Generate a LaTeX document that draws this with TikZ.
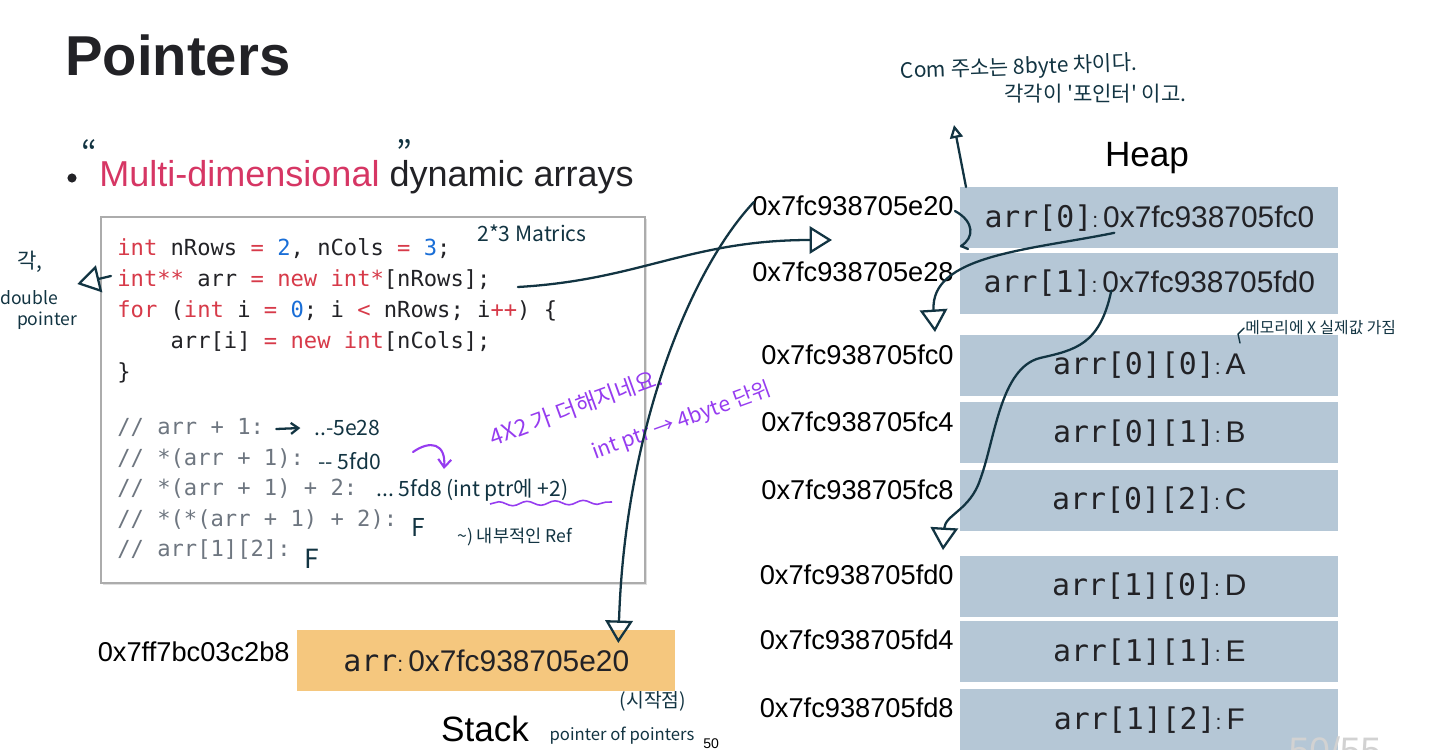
\documentclass[tikz,border=0pt]{standalone}
\usepackage{fontspec}
\setmainfont{Liberation Sans}
\setmonofont{DejaVu Sans Mono}
\newfontfamily\handfont{Noto Sans CJK KR}
\usepackage{xcolor}
\usetikzlibrary{arrows.meta, positioning, calc, shadows, decorations.pathmorphing}
\definecolor{slideInk}{RGB}{34,34,38}
\definecolor{slideRed}{RGB}{214,54,100}
\definecolor{codeKw}{RGB}{215,58,73}
\definecolor{codeNum}{RGB}{25,110,215}
\definecolor{codeCmt}{RGB}{110,118,128}
\definecolor{heapBlue}{RGB}{181,199,214}
\definecolor{stackGold}{RGB}{245,199,126}
\definecolor{penInk}{RGB}{18,52,66}
\definecolor{penPurple}{RGB}{150,60,240}
\newcommand{\kw}[1]{\textcolor{codeKw}{#1}}
\newcommand{\nm}[1]{\textcolor{codeNum}{#1}}
\newcommand{\memval}[2]{{\ttfamily #1}{\fontsize{12pt}{14pt}\selectfont:}\,#2}

\begin{document}
\begin{tikzpicture}[
    x=0.02cm, y=-0.02cm,
    heapcell/.style={fill=heapBlue, minimum width=7.56cm, minimum height=1.22cm,
      inner sep=0pt, font=\fontsize{17pt}{20pt}\selectfont, text=slideInk},
    stackcell/.style={heapcell, fill=stackGold},
    addrlabel/.style={anchor=east, inner sep=0pt, font=\fontsize{15.5pt}{18pt}\selectfont, text=black},
    codeline/.style={anchor=base west, inner sep=0pt, font=\ttfamily\fontsize{12.6pt}{15pt}\selectfont, text=slideInk},
    cmtline/.style={codeline, text=codeCmt},
    pen/.style={inner sep=0pt, text=penInk, font=\handfont\fontsize{12pt}{14pt}\selectfont},
    pensmall/.style={pen, font=\handfont\fontsize{10pt}{12pt}\selectfont},
    penp/.style={pen, text=penPurple},
    penline/.style={draw=penInk, line width=1.3pt, line cap=round, line join=round},
    penarrow/.style={penline, -{Triangle[open, length=4.5mm, width=5.5mm]}}
  ]
    \useasboundingbox (0,0) rectangle (1430,750);

    % title and bullet
    \node[anchor=base west, inner sep=0pt, font=\bfseries\fontsize{32pt}{36pt}\selectfont, text=slideInk] (title) at (65,76) {Pointers};
    \fill[slideInk] (72,178) circle[radius=2.6pt];
    \node[anchor=base west, inner sep=0pt, font=\fontsize{20.5pt}{24pt}\selectfont, text=slideInk] (bullet) at (99,186)
      {\textcolor{slideRed}{Multi-dimensional} dynamic arrays};
    \node[pen, font=\handfont\fontsize{19pt}{20pt}\selectfont] (qOpen) at (89,153) {“};
    \node[pen, font=\handfont\fontsize{19pt}{20pt}\selectfont] (qClose) at (404,152) {”};

    % code listing
    \node[draw=gray!65, line width=1.3pt, fill=white, drop shadow={opacity=0.25, shadow xshift=1.2pt, shadow yshift=-1.2pt},
      minimum width=10.88cm, minimum height=7.32cm, anchor=north west, inner sep=0pt] (codebox) at (100,216) {};
    \node[codeline] (l1) at (117,255) {\kw{int} nRows \kw{=} \nm{2}, nCols \kw{=} \nm{3};};
    \node[codeline] (l2) at (117,286) {\kw{int**} arr \kw{=} \kw{new} \kw{int*}[nRows];};
    \node[codeline] (l3) at (117,317) {\kw{for} (\kw{int} i \kw{=} \nm{0}; i \kw{<} nRows; i\kw{++}) \{};
    \node[codeline] (l4) at (117,348) {\phantom{0000}arr[i] \kw{=} \kw{new} \kw{int}[nCols];};
    \node[codeline] (l5) at (117,379) {\}};
    \node[cmtline] (c1) at (117,434) {// arr + 1:};
    \node[cmtline] (c2) at (117,465) {// *(arr + 1):};
    \node[cmtline] (c3) at (117,495) {// *(arr + 1) + 2:};
    \node[cmtline] (c4) at (117,526) {// *(*(arr + 1) + 2):};
    \node[cmtline] (c5) at (117,556) {// arr[1][2]:};

    % stack
    \node[stackcell, anchor=north west] (stack) at (297,630) {\memval{arr}{0x7fc938705e20}};
    \node[addrlabel] (astack) at ($(stack.north west)+(-7,22)$) {0x7ff7bc03c2b8};
    \node[anchor=base, inner sep=0pt, font=\fontsize{20pt}{24pt}\selectfont] (stackname) at (485,741) {Stack};
    \node[anchor=base west, inner sep=0pt, font=\fontsize{8pt}{9pt}\selectfont] (pagenum) at (703,748) {50};

    % heap
    \node[anchor=base, inner sep=0pt, font=\fontsize{20pt}{24pt}\selectfont] (heapname) at (1147,166) {Heap};
    \node[heapcell, anchor=north west] (h0) at (960,187) {\memval{arr[0]}{0x7fc938705fc0}};
    \node[heapcell, below=0.08cm of h0] (h1) {\memval{arr[1]}{0x7fc938705fd0}};
    \node[heapcell, below=0.4cm of h1] (h00) {\memval{arr[0][0]}{A}};
    \node[heapcell, below=0.12cm of h00] (h01) {\memval{arr[0][1]}{B}};
    \node[heapcell, below=0.12cm of h01] (h02) {\memval{arr[0][2]}{C}};
    \node[heapcell, below=0.48cm of h02] (h10) {\memval{arr[1][0]}{D}};
    \node[heapcell, below=0.08cm of h10] (h11) {\memval{arr[1][1]}{E}};
    \node[heapcell, below=0.12cm of h11] (h12) {\memval{arr[1][2]}{F}};
    \node[addrlabel] (ae20) at ($(h0.north west)+(-6,19)$) {0x7fc938705e20};
    \node[addrlabel] (ae28) at ($(h1.north west)+(-6,19)$) {0x7fc938705e28};
    \node[addrlabel] (afc0) at ($(h00.north west)+(-6,20)$) {0x7fc938705fc0};
    \node[addrlabel] (afc4) at ($(h01.north west)+(-6,20)$) {0x7fc938705fc4};
    \node[addrlabel] (afc8) at ($(h02.north west)+(-6,20)$) {0x7fc938705fc8};
    \node[addrlabel] (afd0) at ($(h10.north west)+(-6,19)$) {0x7fc938705fd0};
    \node[addrlabel] (afd4) at ($(h11.north west)+(-6,19)$) {0x7fc938705fd4};
    \node[addrlabel] (afd8) at ($(h12.north west)+(-6,19)$) {0x7fc938705fd8};
    \node[anchor=base, inner sep=0pt, text=gray!35, font=\fontsize{21pt}{24pt}\selectfont] (pageof) at (1335,763) {50/55};

    % handwritten notes
    \node[pen, anchor=west] (nMat) at (477,233) {2*3 Matrics};
    \node[pen] (nGak) at (30,262) {각,};
    \node[pensmall] (nDbl) at (29,298) {double};
    \node[pensmall] (nPtr) at (47,321) {pointer};
    \node[pen, anchor=west] (n5e28) at (314,428) {..-5e28};
    \node[pen, anchor=west] (n5fd0) at (318,461) {-- 5fd0};
    \node[pen, anchor=west] (n5fd8) at (376,490) {...\ 5fd8 (int ptr에 +2)};
    \node[pen, anchor=west, font=\handfont\fontsize{14pt}{16pt}\selectfont] (nF1) at (411,527) {F};
    \node[pen, anchor=west, font=\handfont\fontsize{15pt}{17pt}\selectfont] (nF2) at (304,559) {F};
    \node[pensmall, anchor=west] (nRef) at (457,537) {\textasciitilde) 내부적인 Ref};
    \node[penp, rotate=20, font=\handfont\fontsize{13pt}{15pt}\selectfont] (nAdd) at (576,407) {4X2 가 더해지네요.};
    \node[penp, rotate=20] (nUnit) at (682,421) {int ptr → 4byte 단위};
    \node[pen, anchor=west, rotate=2] (nRow) at (900,72) {Com 주소는 8byte 차이다.};
    \node[pen, anchor=west] (nEach) at (1004,94) {각각이 '포인터' 이고.};
    \node[pen, font=\handfont\fontsize{11pt}{13pt}\selectfont] (nStart) at (653,701) {(시작점)};
    \node[pensmall, font=\handfont\fontsize{9.5pt}{11pt}\selectfont] (nPoP) at (622,736) {pointer of pointers};
    \node[pensmall, anchor=west, font=\handfont\fontsize{9pt}{11pt}\selectfont] (nReal) at (1245,328) {메모리에 X 실제값 가짐};

    % handwritten connectors
    \coordinate (pE) at (832,240);
    \coordinate (pNote) at (954,125);
    \draw[penarrow] ($(l2.base east)+(27,1)$) .. controls (640,280) and (690,240) .. (pE);
    \draw[penarrow] ($(ae20.west)+(2,-4)$) .. controls (690,270) and (625,430) .. ($(stack.north)+(132,13)$);
    \draw[penline, -{Triangle[open, length=2.6mm, width=2.6mm]}] ($(h0.north west)+(6,0)$) -- (pNote);
    \draw[penline] (955,211) .. controls (975,222) and (974,238) .. (961,246) -- (968,249);
    \draw[penarrow] ($(h0.center)+(-35,15)$) .. controls (1030,250) and (930,255) .. ($(afc0.north east)+(-19,-12)$);
    \draw[penarrow] ($(h1.center)+(-38,7)$) .. controls (1100,345) and (1075,350) .. (1040,358)
      .. controls (1000,368) and (995,440) .. (980,480) .. controls (970,510) and (945,515) .. ($(afd0.north east)+(-11,-14)$);
    \draw[penarrow] ($(l2.base west)+(-6,-10)$) -- ($(nDbl.east)+(19,-14)$);
    \draw[penline, -{Straight Barb[length=1.5mm, width=2.2mm]}] ($(c1.base east)+(12,-5)$) -- ++(24,-1);
    \draw[penPurple, line width=1.2pt, line cap=round, -{Straight Barb[length=1.6mm, width=2.6mm]}]
      ($(n5fd8.west)+(37,-38)$) .. controls ++(17,-12) and ++(2,-26) .. ($(n5fd8.west)+(68,-21)$);
    \draw[penPurple, line width=0.9pt, decorate, decoration={snake, amplitude=1.2pt, segment length=16pt}]
      ($(n5fd8.west)+(114,14)$) -- ($(n5fd8.west)+(236,12)$);
    \draw[penline, line width=0.8pt] ($(nReal.west)+(-5,15)$) -- ($(nReal.west)+(-7,6)$) -- ($(nReal.west)+(-1,0)$);
  \end{tikzpicture}
\end{document}
